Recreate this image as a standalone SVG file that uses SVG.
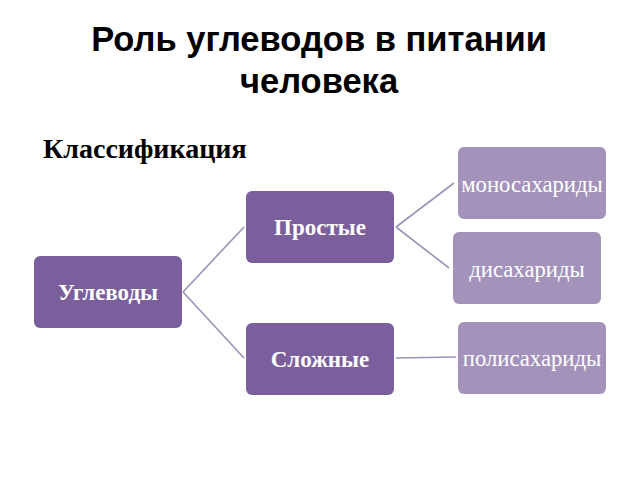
<svg xmlns="http://www.w3.org/2000/svg" width="640" height="480" viewBox="0 0 640 480">
<style>
.title{font-family:"Liberation Sans",Arial,sans-serif;font-weight:bold;font-size:34.5px;fill:#000;text-anchor:middle}
.sub{font-family:"Liberation Serif","Times New Roman",serif;font-weight:bold;font-size:28px;fill:#000}
.dark{fill:#7a5f9c}
.light{fill:#a393bb}
.bt{font-family:"Liberation Serif","Times New Roman",serif;font-weight:bold;font-size:23px;fill:#fff;text-anchor:middle;dominant-baseline:central}
.lt{font-family:"Liberation Serif","Times New Roman",serif;font-size:22.7px;fill:#fff;text-anchor:middle;dominant-baseline:central}
.conn line{stroke:#9d91b8;stroke-width:1.6}
</style>
<rect width="640" height="480" fill="#fff"/>
<text class="title" x="319" y="51">Роль углеводов в питании</text>
<text class="title" x="319" y="93">человека</text>
<text class="sub" x="43" y="158">Классификация</text>
<g class="conn">
<line x1="183" y1="292" x2="244" y2="227"/>
<line x1="183" y1="292" x2="244" y2="358"/>
<line x1="396" y1="227" x2="454" y2="183"/>
<line x1="396" y1="227" x2="449" y2="268"/>
<line x1="396" y1="358" x2="456" y2="357"/>
</g>
<g id="uglevody"><rect class="dark" x="34" y="256" width="148" height="72" rx="6"/><text class="bt" x="108" y="292">Углеводы</text></g>
<g id="prostye"><rect class="dark" x="246" y="191" width="148" height="72" rx="6"/><text class="bt" x="320" y="227">Простые</text></g>
<g id="slozhnye"><rect class="dark" x="246" y="323" width="148" height="72" rx="6"/><text class="bt" x="320" y="359">Сложные</text></g>
<g id="mono"><rect class="light" x="458" y="147" width="148" height="72" rx="6"/><text class="lt" x="532" y="184">моносахариды</text></g>
<g id="di"><rect class="light" x="453" y="232" width="148" height="72" rx="6"/><text class="lt" x="527" y="269">дисахариды</text></g>
<g id="poli"><rect class="light" x="458" y="322" width="148" height="72" rx="6"/><text class="lt" x="532" y="358">полисахариды</text></g>
</svg>
